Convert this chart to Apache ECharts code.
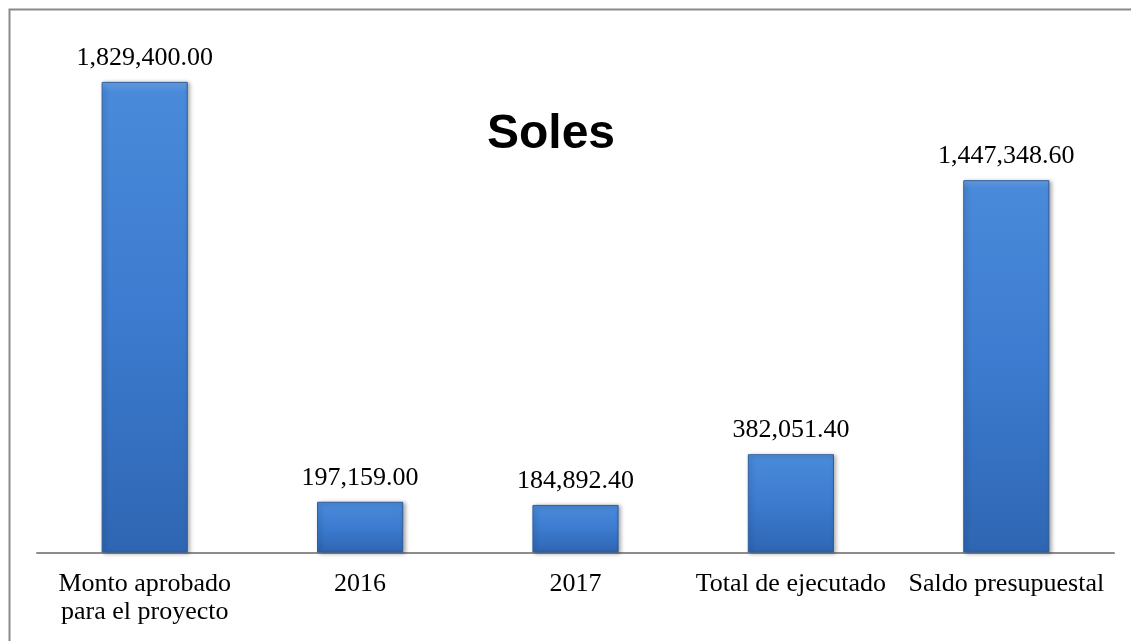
<!DOCTYPE html>
<html>
<head>
<meta charset="utf-8">
<script src="https://cdn.jsdelivr.net/npm/echarts@6/dist/echarts.min.js"></script>
<style>html,body{margin:0;padding:0;background:#fff}#c{width:1131px;height:641px}</style>
</head>
<body>
<div id="c"></div>
<script>
const categories = ["Monto aprobado\npara el proyecto", "2016", "2017", "Total de ejecutado", "Saldo presupuestal"];
const values = [1829400.00, 197159.00, 184892.40, 382051.40, 1447348.60];
const titleText = "Soles";

const chart = echarts.init(document.getElementById('c'), null, {renderer: 'canvas'});
const fmt = v => v.toLocaleString('en-US', {minimumFractionDigits: 2, maximumFractionDigits: 2});
chart.setOption({
  animation: false,
  backgroundColor: '#fff',
  graphic: [{
    type: 'rect', left: 7, top: 7, shape: {width: 1300, height: 800},
    style: {fill: 'none', stroke: '#8a8a8a', lineWidth: 2}, silent: true, z: 0
  }],
  title: {
    text: titleText, left: 546, top: 106, textAlign: 'center',
    textStyle: {fontFamily: 'Liberation Sans, Arial, sans-serif', fontWeight: 'bold', fontSize: 48, color: '#000'}
  },
  grid: {left: 37, right: 17, top: 38, bottom: 88.5, containLabel: false},
  xAxis: {
    type: 'category', data: categories,
    axisLine: {lineStyle: {color: '#8c8c8c', width: 2}},
    axisTick: {show: false},
    axisLabel: {interval: 0, margin: 18, fontFamily: 'Liberation Serif, Times New Roman, serif', fontSize: 26, lineHeight: 28, color: '#000'}
  },
  yAxis: {type: 'value', min: 0, max: 2000000, show: false, splitLine: {show: false}},
  series: [{
    type: 'bar', data: values, barCategoryGap: '60%',
    itemStyle: {
      color: new echarts.graphic.LinearGradient(0, 0, 0, 1, [
        {offset: 0, color: '#6aa3e6'},
        {offset: 0.02, color: '#4a8ada'},
        {offset: 0.5, color: '#3c7bcf'},
        {offset: 1, color: '#2f66b3'}
      ]),
      borderColor: '#2d5e9f', borderWidth: 1,
      shadowColor: 'rgba(0,0,0,0.35)', shadowBlur: 4, shadowOffsetX: 2, shadowOffsetY: 1
    },
    label: {
      show: true, position: 'top', distance: 11,
      formatter: p => fmt(p.value),
      fontFamily: 'Liberation Serif, Times New Roman, serif', fontSize: 26, color: '#000'
    }
  }]
});
</script>
</body>
</html>
